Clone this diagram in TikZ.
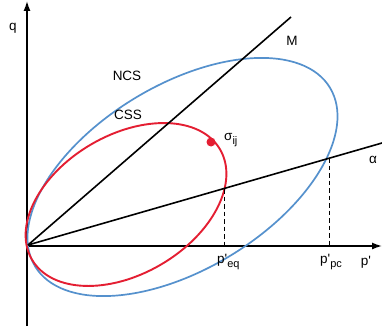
\documentclass[tikz,border=0pt]{standalone}
\usepackage{fontspec}
\setmainfont{Liberation Sans}
\usetikzlibrary{arrows.meta}
\definecolor{ncsblue}{RGB}{85,145,205}
\definecolor{cssred}{RGB}{228,30,50}
\newcommand{\pr}{p\textquotesingle}
\newcommand{\subl}[1]{\raisebox{-4pt}{\fontsize{11}{12}\selectfont #1}}
\begin{document}
\begin{tikzpicture}[x=1pt,y=-1pt,
  axis/.style={line width=1.4pt,-{Latex[length=10pt,width=7pt]}},
  ray/.style={line width=1.6pt},
  dashline/.style={line width=1pt,dash pattern=on 4.5pt off 3pt},
  lbl/.style={inner sep=0pt,font=\fontsize{13.5}{15}\selectfont}]
\useasboundingbox (0,0) rectangle (382,326);
\fill[white] (0,0) rectangle (382,326);
% axes
\coordinate (O) at (28,245);
\coordinate (ybot) at (27,326);
\coordinate (ytop) at (27,1);
\coordinate (xleft) at (27,246);
\coordinate (xright) at (382,246);
\draw[axis] (ybot) -- (ytop);
\draw[axis] (xleft) -- (xright);
% ellipses
\draw[ncsblue,line width=1.7pt,rotate around={31.2:(182.5,177)}]
  (182.5,177) ellipse [x radius=172.4pt,y radius=92.1pt];
\draw[cssred,line width=1.9pt,rotate around={30.4:(126,204.5)}]
  (126,204.5) ellipse [x radius=109pt,y radius=69.5pt];
% rays
\coordinate (Mend) at (291,17);
\coordinate (Aend) at (382,143);
\draw[ray] (O) -- (Mend);
\draw[ray] (O) -- (Aend);
% dashed lines
\coordinate (ieq) at (224,189);
\coordinate (ipc) at (329,158);
\coordinate (beq) at (224,246);
\coordinate (bpc) at (329,246);
\draw[dashline] (ieq) -- (beq);
\draw[dashline] (ipc) -- (bpc);
% stress point
\fill[cssred] (211,142) circle [radius=4.5pt];
% labels
\node[lbl] (q) at (13,28) {q};
\node[lbl] (ncs) at (127,76) {NCS};
\node[lbl] (css) at (128,115) {CSS};
\node[lbl] (m) at (292,41) {M};
\node[lbl] (al) at (373,160) {α};
\node[lbl,anchor=west] (sig) at (224,140) {σ\subl{ij}};
\node[lbl,anchor=west] (peq) at (217,262) {\pr\subl{eq}};
\node[lbl,anchor=west] (ppc) at (320,262) {\pr\subl{pc}};
\node[lbl] (pp) at (366,262) {\pr};
\end{tikzpicture}
\end{document}
